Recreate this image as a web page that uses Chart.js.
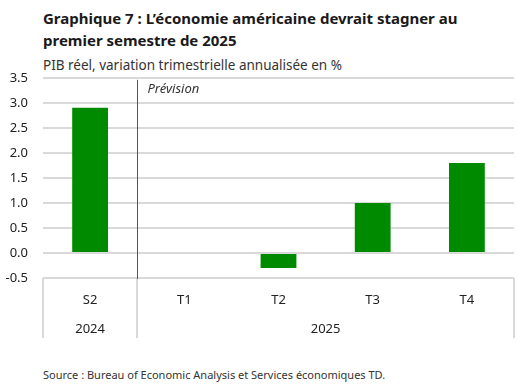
<!DOCTYPE html>
<html lang="fr">
<head>
<meta charset="utf-8">
<script src="https://cdn.jsdelivr.net/npm/chart.js@4"></script>
<style>
  html, body { margin: 0; padding: 0; background: #fff; }
  body { width: 517px; height: 386px; position: relative; overflow: hidden;
         font-family: "Noto Sans", sans-serif; color: #222; }
  #title { position: absolute; left: 43px; top: 7px; width: 470px;
           font-size: 15px; font-weight: bold; line-height: 22px; color: #1a1a1a; }
  #subtitle { position: absolute; left: 43px; top: 56px; font-size: 13.5px; color: #333; }
  #source { position: absolute; left: 43px; top: 367px; font-size: 11px; color: #333; }
  #wrap { position: absolute; left: 0; top: 55px; width: 517px; height: 294px; }
</style>
</head>
<body>
<div id="title">Graphique 7 : L’économie américaine devrait stagner au premier semestre de 2025</div>
<div id="subtitle">PIB réel, variation trimestrielle annualisée en %</div>
<div id="wrap"><canvas id="chart"></canvas></div>
<div id="source">Source : Bureau of Economic Analysis et Services économiques TD.</div>
<script>
"use strict";

// ── data ──
const quarters = ["S2", "T1", "T2", "T3", "T4"];
const years = ["2024", "2025", "2025", "2025", "2025"];
const gdp = [2.9, 0, -0.3, 1.0, 1.8];
const forecastStart = 1; // index of first forecast category
const forecastLabel = "Prévision";

const GREEN = "#008a00";
const GRID = "#d9d9d9";

// separators, year labels, forecast line
const groupPlugin = {
  id: "groups",
  afterDraw(chart) {
    const { ctx, chartArea } = chart;
    const x = chart.scales.x;
    const half = (x.getPixelForValue(1) - x.getPixelForValue(0)) / 2;
    const edge = i => x.getPixelForValue(i) - half;
    const bottom = chartArea.bottom + 60;

    ctx.save();
    // light separators in label area
    const bounds = [0];
    for (let i = 1; i < years.length; i++) if (years[i] !== years[i - 1]) bounds.push(i);
    bounds.push(years.length);
    ctx.strokeStyle = GRID;
    ctx.lineWidth = 2;
    bounds.forEach(b => {
      const px = Math.round(edge(b));
      ctx.beginPath();
      ctx.moveTo(px, chartArea.bottom);
      ctx.lineTo(px, bottom);
      ctx.stroke();
    });

    // year labels centred on their groups
    ctx.fillStyle = "#222";
    ctx.font = "13px 'Noto Sans', sans-serif";
    ctx.textAlign = "center";
    ctx.textBaseline = "middle";
    for (let g = 0; g < bounds.length - 1; g++) {
      const cx = (edge(bounds[g]) + edge(bounds[g + 1])) / 2;
      ctx.fillText(years[bounds[g]], cx, chartArea.bottom + 51);
    }

    // forecast divider
    const fx = Math.round(edge(forecastStart)) + 0.5;
    ctx.strokeStyle = "#555";
    ctx.lineWidth = 1;
    ctx.beginPath();
    ctx.moveTo(fx, chartArea.top + 2);
    ctx.lineTo(fx, chartArea.bottom + 1);
    ctx.stroke();

    ctx.font = "italic 13px 'Noto Sans', sans-serif";
    ctx.textAlign = "left";
    ctx.fillStyle = "#333";
    ctx.fillText(forecastLabel, fx + 10, chartArea.top + 11);
    ctx.restore();
  }
};

Chart.defaults.font.family = "'Noto Sans', sans-serif";
Chart.defaults.color = "#222";

new Chart(document.getElementById("chart"), {
  type: "bar",
  data: {
    labels: quarters,
    datasets: [{ data: gdp, backgroundColor: GREEN, barPercentage: 0.38, categoryPercentage: 1 }]
  },
  options: {
    responsive: true,
    maintainAspectRatio: false,
    animation: false,
    layout: { padding: { top: 10, right: 3, bottom: 11, left: 0 } },
    plugins: { legend: { display: false }, tooltip: { enabled: false } },
    scales: {
      x: {
        grid: { display: false, drawTicks: false },
        border: { display: false },
        ticks: { padding: 14, font: { size: 13 }, color: "#222" },
        afterFit: s => { s.height = 60; }
      },
      y: {
        min: -0.5, max: 3.5,
        grid: { color: GRID, lineWidth: 2, drawTicks: false },
        border: { display: false },
        ticks: { stepSize: 0.5, padding: 15, font: { size: 13 }, color: "#222",
                 callback: v => v.toFixed(1) },
        afterFit: s => { s.width = 43; }
      }
    }
  },
  plugins: [groupPlugin]
});
</script>
</body>
</html>
